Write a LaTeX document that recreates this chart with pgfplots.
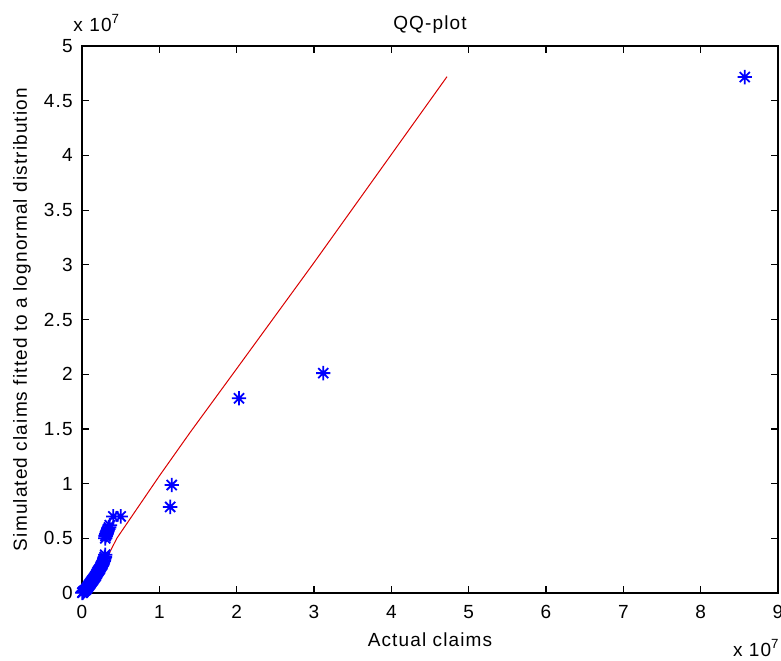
\documentclass[border=0pt]{standalone}
\usepackage{fontspec}
\setmainfont{Liberation Sans}[LetterSpace=6]
\usepackage{pgfplots}
\pgfplotsset{compat=1.18}
\usetikzlibrary{calc}

% MATLAB style '*' marker: plus with a smaller cross over it
\pgfdeclareplotmark{mstar}{%
  \pgfpathmoveto{\pgfqpoint{-\pgfplotmarksize}{0pt}}%
  \pgfpathlineto{\pgfqpoint{\pgfplotmarksize}{0pt}}%
  \pgfpathmoveto{\pgfqpoint{0pt}{-\pgfplotmarksize}}%
  \pgfpathlineto{\pgfqpoint{0pt}{\pgfplotmarksize}}%
  \pgfpathmoveto{\pgfqpoint{-0.7\pgfplotmarksize}{-0.7\pgfplotmarksize}}%
  \pgfpathlineto{\pgfqpoint{0.7\pgfplotmarksize}{0.7\pgfplotmarksize}}%
  \pgfpathmoveto{\pgfqpoint{-0.7\pgfplotmarksize}{0.7\pgfplotmarksize}}%
  \pgfpathlineto{\pgfqpoint{0.7\pgfplotmarksize}{-0.7\pgfplotmarksize}}%
  \pgfusepathqstroke}

\begin{document}
\begin{tikzpicture}
\begin{axis}[scale only axis, width=348pt, height=273.5pt,
  xmin=0, xmax=9e7, ymin=0, ymax=5e7,
  xtick={0,1e7,2e7,3e7,4e7,5e7,6e7,7e7,8e7,9e7},
  ytick={0,0.5e7,1e7,1.5e7,2e7,2.5e7,3e7,3.5e7,4e7,4.5e7,5e7},
  scaled x ticks=base 10:-7, scaled y ticks=base 10:-7,
  xtick scale label code/.code={x 10\textsuperscript{7}},
  ytick scale label code/.code={x 10\textsuperscript{7}},
  every x tick scale label/.style={at={(rel axis cs:1,0)}, anchor=north east,
    inner sep=0pt, yshift=-17pt, xshift=1pt},
  every y tick scale label/.style={at={(rel axis cs:0,1)}, anchor=south west,
    inner sep=0pt, yshift=7pt},
  /pgf/number format/fixed, /pgf/number format/assume math mode=true,
  tick align=inside, major tick length=3.5pt,
  axis line style={line width=0.6pt}, tick style={line width=0.6pt, black},
  font=\fontsize{9.5}{11}\selectfont,
  xticklabel style={inner sep=0pt, yshift=-6pt},
  yticklabel style={inner sep=0pt, xshift=-4.5pt},
  title={QQ-plot},
  title style={at={(rel axis cs:0.5,1)}, anchor=south, inner sep=0pt, yshift=0pt},
  xlabel={Actual claims},
  every axis x label/.style={at={(rel axis cs:0.5,0)}, anchor=north, inner sep=0pt, yshift=-19.5pt},
  ylabel={Simulated claims fitted to a lognormal distribution},
  every axis y label/.style={at={($(rel axis cs:0,0.5)+(-30pt,0pt)$)}, rotate=90, anchor=center, inner sep=0pt},
  clip=false]

% reference line
\addplot[red!85!black, line width=0.5pt] coordinates {
  (0,0) (0.35e7,0.36e7) (0.45e7,0.5e7) (1.0e7,1.07e7) (1.4e7,1.47e7)
  (2.0e7,2.05e7) (3.0e7,3.02e7) (4.72e7,4.72e7)
};

% sorted actual claims vs simulated quantiles
\addplot[only marks, mark=mstar, mark size=3.6pt, color={rgb,255:red,0;green,0;blue,255}, line width=0.9pt] coordinates {
  (0.005e7,0.002e7) (0.01e7,0.005e7) (0.015e7,0.01e7) (0.02e7,0.015e7)
  (0.03e7,0.02e7) (0.04e7,0.025e7) (0.05e7,0.03e7) (0.06e7,0.04e7)
  (0.07e7,0.05e7) (0.08e7,0.06e7) (0.09e7,0.07e7) (0.10e7,0.08e7)
  (0.11e7,0.09e7) (0.12e7,0.10e7) (0.13e7,0.11e7) (0.14e7,0.12e7)
  (0.15e7,0.13e7) (0.16e7,0.14e7) (0.17e7,0.15e7) (0.18e7,0.16e7)
  (0.19e7,0.175e7) (0.20e7,0.19e7) (0.21e7,0.20e7) (0.22e7,0.21e7)
  (0.23e7,0.22e7) (0.24e7,0.235e7) (0.25e7,0.25e7) (0.26e7,0.26e7)
  (0.265e7,0.27e7) (0.27e7,0.28e7) (0.28e7,0.29e7) (0.285e7,0.30e7)
  (0.29e7,0.315e7) (0.295e7,0.33e7) (0.30e7,0.35e7)
  (0.30e7,0.50e7) (0.305e7,0.52e7) (0.31e7,0.53e7) (0.315e7,0.54e7)
  (0.32e7,0.555e7) (0.33e7,0.57e7) (0.34e7,0.585e7) (0.35e7,0.60e7)
  (0.36e7,0.62e7) (0.405e7,0.70e7) (0.50e7,0.70e7)
  (1.14e7,0.787e7) (1.16e7,0.987e7) (2.03e7,1.78e7) (3.12e7,2.01e7)
  (8.57e7,4.716e7)
};
\end{axis}
\pgfresetboundingbox
\path[use as bounding box] ($(current axis.south west)+(-41pt,-33.5pt)$)
  rectangle ($(current axis.north east)+(1.5pt,23pt)$);
\end{tikzpicture}
\end{document}
